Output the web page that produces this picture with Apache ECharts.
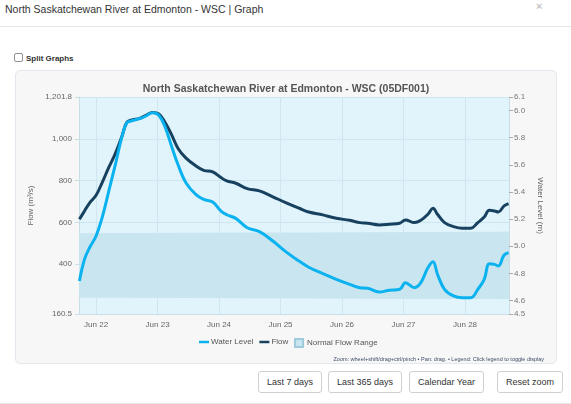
<!DOCTYPE html>
<html>
<head>
<meta charset="utf-8">
<script src="https://cdn.jsdelivr.net/npm/echarts@6/dist/echarts.min.js"></script>
<style>
  body { margin: 0; width: 571px; height: 404px; background: #fff; font-family: "Liberation Sans", Arial, sans-serif; position: relative; overflow: hidden; }
  .head { position: absolute; left: 5px; top: 2px; font-size: 10.5px; color: #333; line-height: 14px; }
  .close { position: absolute; left: 536px; top: 0px; font-size: 11px; color: #c4c4c4; font-weight: bold; }
  .sep { position: absolute; left: 0; top: 26px; width: 571px; height: 1px; background: #e5e5e5; }
  .split { position: absolute; left: 14px; top: 53px; font-size: 8px; font-weight: bold; color: #333; line-height: 10px; }
  .split span.box { display: inline-block; width: 7px; height: 7px; border: 1px solid #8f8f8f; border-radius: 2px; vertical-align: -1px; margin-right: 3px; background: #fff; }
  .panel { position: absolute; left: 15px; top: 70px; width: 540px; height: 292px; background: #f7f7f7; border: 1px solid #e2e8ee; border-radius: 5px; }
  #chart { position: absolute; left: 0; top: 0; width: 540px; height: 292px; }
  .btn { position: absolute; top: 371px; height: 20px; border: 1px solid #d0d0d0; border-radius: 3px; background: #fff; font-size: 9px; color: #333; line-height: 20px; text-align: center; }
  .bottom { position: absolute; left: 0; top: 403px; width: 571px; height: 1px; background: #e5e5e5; }
</style>
</head>
<body>
<div class="head">North Saskatchewan River at Edmonton - WSC | Graph</div>
<div class="close">×</div>
<div class="sep"></div>
<div class="split"><span class="box"></span>Split Graphs</div>
<div class="panel"><div id="chart"></div></div>
<div class="btn" style="left:258px;width:62px;">Last 7 days</div>
<div class="btn" style="left:328px;width:72px;">Last 365 days</div>
<div class="btn" style="left:409px;width:73px;">Calendar Year</div>
<div class="btn" style="left:497px;width:64px;">Reset zoom</div>
<div class="bottom"></div>
<script>
// readings
const times = [
  '2024-06-21T17:30', '2024-06-21T19:30', '2024-06-21T21:30', '2024-06-22T00:00', '2024-06-22T02:30',
  '2024-06-22T05:00', '2024-06-22T07:30', '2024-06-22T10:00', '2024-06-22T12:00', '2024-06-22T14:00',
  '2024-06-22T17:00', '2024-06-22T19:30', '2024-06-22T22:00', '2024-06-23T00:30', '2024-06-23T03:00',
  '2024-06-23T05:30', '2024-06-23T08:00', '2024-06-23T11:00', '2024-06-23T15:00', '2024-06-23T18:00',
  '2024-06-23T21:30', '2024-06-24T00:45', '2024-06-24T03:00', '2024-06-24T06:30', '2024-06-24T11:00',
  '2024-06-24T15:45', '2024-06-24T21:00', '2024-06-25T02:00', '2024-06-25T07:15', '2024-06-25T11:00',
  '2024-06-25T16:30', '2024-06-25T21:45', '2024-06-26T03:00', '2024-06-26T07:00', '2024-06-26T10:00',
  '2024-06-26T14:30', '2024-06-26T18:30', '2024-06-26T22:30', '2024-06-27T00:45', '2024-06-27T04:15',
  '2024-06-27T06:45', '2024-06-27T09:30', '2024-06-27T11:30', '2024-06-27T13:15', '2024-06-27T16:00',
  '2024-06-27T19:30', '2024-06-27T23:00', '2024-06-28T02:15', '2024-06-28T05:00', '2024-06-28T07:30',
  '2024-06-28T09:30', '2024-06-28T11:30', '2024-06-28T13:00', '2024-06-28T15:15', '2024-06-28T17:00'
];
const flow = [
  615, 655, 694, 730, 795,
  865, 930, 1010, 1080, 1092,
  1099, 1114, 1127, 1120, 1078,
  1020, 955, 910, 871, 850,
  842, 815, 799, 788, 762,
  751, 723, 695, 668, 650,
  636, 620, 610, 599, 596,
  588, 591, 596, 612, 599,
  610, 639, 668, 639, 599,
  580, 572, 572, 599, 626,
  658, 655, 650, 679, 690
];
const waterLevel = [
  4.743, 4.905, 4.99, 5.075, 5.22,
  5.41, 5.60, 5.80, 5.91, 5.925,
  5.94, 5.96, 5.984, 5.965, 5.875,
  5.735, 5.60, 5.47, 5.38, 5.345,
  5.325, 5.259, 5.232, 5.205, 5.136,
  5.107, 5.038, 4.96, 4.89, 4.845,
  4.797, 4.756, 4.719, 4.694, 4.69,
  4.662, 4.675, 4.682, 4.731, 4.694,
  4.731, 4.841, 4.886, 4.793, 4.682,
  4.633, 4.62, 4.62, 4.682, 4.756,
  4.871, 4.866, 4.854, 4.935, 4.952
];
const bandTimes = ['2024-06-21T17:20', '2024-06-22T12:00', '2024-06-23T12:00', '2024-06-24T12:00', '2024-06-25T12:00',
  '2024-06-26T12:00', '2024-06-27T12:00', '2024-06-28T12:00', '2024-06-28T17:10'];
const bandLow = [239, 238, 237, 236, 235, 234, 233, 232, 231];
const bandHigh = [548, 549, 550, 551, 552, 553, 554, 555, 556];

const flowTicks = [160.5, 400, 600, 800, 1000, 1201.8];
const levelTicks = [4.5, 4.6, 4.8, 5.0, 5.2, 5.4, 5.6, 5.8, 6.0, 6.1];
const xMin = '2024-06-21T17:20';
const xMax = '2024-06-28T17:10';

const ms = s => new Date(s).getTime();
const font = '"Liberation Sans", Arial, sans-serif';
const gridColor = '#cfe5ef';

const chart = echarts.init(document.getElementById('chart'));
chart.setOption({
  animation: false,
  textStyle: { fontFamily: font },
  title: {
    text: 'North Saskatchewan River at Edmonton - WSC (05DF001)',
    left: 'center', top: 8,
    textStyle: { fontSize: 10.5, fontWeight: 'bold', color: '#555' }
  },
  legend: [{
    data: ['Water Level', 'Flow'],
    left: 183, top: 267, padding: 0, itemWidth: 10, itemHeight: 2.5, itemGap: 6, icon: 'rect',
    textStyle: { fontSize: 8, color: '#555', padding: [0, 0, 0, -3] }
  }, {
    data: ['Normal Flow Range'],
    left: 278, top: 267, padding: 0, itemWidth: 8, itemHeight: 8, icon: 'rect',
    textStyle: { fontSize: 8, color: '#555', padding: [0, 0, 0, -1] }
  }],
  graphic: [{
    type: 'text', right: 12, top: 285,
    style: { text: 'Zoom: wheel+shift/drag+ctrl/pinch • Pan: drag. • Legend: Click legend to toggle display', fontSize: 5.5, fill: '#3d4a66', font: '5.5px ' + font }
  }],
  grid: { left: 63, right: 47, top: 26, bottom: 49, show: true, backgroundColor: '#e1f4fc', borderWidth: 0 },
  xAxis: {
    type: 'time', min: ms(xMin), max: ms(xMax),
    minInterval: 86400000, maxInterval: 86400000,
    axisLine: { lineStyle: { color: '#c9dde7' } },
    axisTick: { show: false },
    splitLine: { show: true, lineStyle: { color: gridColor, width: 1 } },
    axisLabel: {
      fontSize: 8, color: '#666', margin: 7, hideOverlap: false,
      formatter: v => { const d = new Date(v); return (d.getHours() || d.getMinutes()) ? '' : 'Jun ' + d.getDate(); }
    }
  },
  yAxis: [{
    type: 'value', min: 160.5, max: 1201.8,
    name: 'Flow (m³/s)', nameLocation: 'middle', nameGap: 37, nameRotate: 90,
    nameTextStyle: { fontSize: 8, color: '#666' },
    axisLine: { show: true, lineStyle: { color: '#c9dde7' } },
    axisTick: { show: true, length: 4, customValues: flowTicks, lineStyle: { color: '#c9dde7' } },
    splitLine: { show: true, lineStyle: { color: gridColor } },
    axisLabel: { fontSize: 8, color: '#666', margin: 7, customValues: flowTicks, formatter: v => Number(v).toLocaleString('en-US') }
  }, {
    type: 'value', min: 4.5, max: 6.1, position: 'right',
    name: 'Water Level (m)', nameLocation: 'middle', nameGap: 25, nameRotate: -90,
    nameTextStyle: { fontSize: 8, color: '#666' },
    axisLine: { show: true, lineStyle: { color: '#c9dde7' } },
    axisTick: { show: true, length: 4, customValues: levelTicks, lineStyle: { color: '#aaa' } },
    splitLine: { show: false },
    axisLabel: { fontSize: 8, color: '#777', margin: 5, customValues: levelTicks, formatter: v => Number(v).toFixed(1) }
  }],
  series: [{
    name: 'bandBase', type: 'line', stack: 'band', yAxisIndex: 0, symbol: 'none', silent: true,
    lineStyle: { width: 0 }, itemStyle: { color: 'transparent' },
    data: bandTimes.map((t, i) => [ms(t), bandLow[i]])
  }, {
    name: 'Normal Flow Range', type: 'line', stack: 'band', yAxisIndex: 0, symbol: 'none', silent: true,
    lineStyle: { width: 0 }, areaStyle: { color: '#c8e5f0', opacity: 1 },
    itemStyle: { color: '#c8e5f0', borderColor: '#9fcbdd', borderWidth: 1 },
    data: bandTimes.map((t, i) => [ms(t), bandHigh[i] - bandLow[i]])
  }, {
    name: 'Flow', type: 'line', yAxisIndex: 0, showSymbol: false, smooth: 0.4,
    lineStyle: { width: 3, color: '#17415f' }, itemStyle: { color: '#17415f' },
    data: times.map((t, i) => [ms(t), flow[i]])
  }, {
    name: 'Water Level', type: 'line', yAxisIndex: 1, showSymbol: false, smooth: 0.4,
    lineStyle: { width: 3, color: '#0ab2ef' }, itemStyle: { color: '#0ab2ef' },
    data: times.map((t, i) => [ms(t), waterLevel[i]])
  }]
});
</script>
</body>
</html>
